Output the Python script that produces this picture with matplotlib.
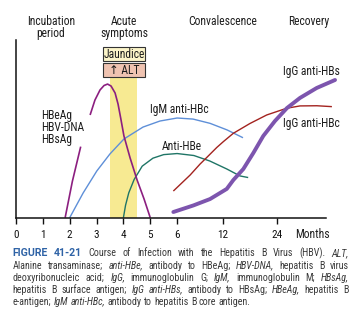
import numpy as np
import matplotlib
matplotlib.use("Agg")
import matplotlib.pyplot as plt
from matplotlib.patches import Rectangle

W, H = 361, 328

# --- data (months on x, relative level 0-100 on y) ---
month_ticks = [0, 1, 2, 3, 4, 5, 6, 12, 24]
# piecewise time axis: months -> axis position
scale_months = [0, 6, 12, 24, 48]
scale_pos = [0, 6, 7.70, 9.73, 13.80]

# HBeAg / HBV-DNA / HBsAg (drawn with a break)
antigen_rise_m = [1.83, 2.1, 2.41]
antigen_rise_y = [0, 20.5, 40]
antigen_peak_m = [2.76, 2.94, 3.13, 3.28, 3.41, 3.54, 3.69, 3.80, 3.90, 4.02, 4.25, 4.51, 4.77, 5.0]
antigen_peak_y = [57.8, 66.2, 71.9, 74.4, 75.2, 74.1, 70.2, 64.0, 56.0, 46.0, 33.6, 21.2, 10.5, 0]

igm_hbc_m = [2.0, 2.5, 3.01, 3.5, 4.02, 4.73, 5.36, 6.0, 8.10, 10.33, 12.95, 16.46]
igm_hbc_y = [0, 13.9, 26.3, 35.9, 44.3, 51.0, 54.4, 56.1, 55.5, 53.1, 49.4, 45.0]

anti_hbe_m = [4.0, 4.08, 4.2, 4.4, 4.7, 5.1, 5.5, 6.0, 8.2, 10.3, 12.9, 15.8, 17.6]
anti_hbe_y = [0, 7, 14, 21.5, 29, 33.5, 35.5, 36.1, 35.0, 31.9, 27.4, 23.5, 22.6]

igg_hbc_m = [5.86, 7.71, 9.02, 9.90, 11.21, 12.13, 14.33, 17.98, 21.67, 26.07, 29.0, 32.7, 36.0]
igg_hbc_y = [15.0, 24.0, 30.2, 33.9, 39.5, 42.8, 47.5, 53.0, 57.8, 61.6, 62.9, 63.0, 62.5]

igg_hbs_m = [5.86, 8.14, 10.33, 12.88, 14.33, 16.53, 18.73, 20.92, 23.49, 26.13, 28.99, 32.66, 36.69]
igg_hbs_y = [3.2, 6.9, 10.5, 16.2, 21.2, 27.4, 36.4, 46.0, 54.4, 61.7, 67.4, 73.0, 77.5]

jaundice_band = (3.5, 4.5)
band_top = 78.4
box_months = (3.23, 4.82)
jaundice_box_y = (88.35, 95.9)
alt_box_y = (79.3, 86.9)

caption_lines = [
    [("FIGURE 41-21", "b"), ("Course of Infection with the Hepatitis B Virus (HBV).", "n"), ("ALT,", "i")],
    [("Alanine transaminase;", "n"), ("anti-HBe,", "i"), ("antibody to HBeAg;", "n"),
     ("HBV-DNA,", "i"), ("hepatitis B virus", "n")],
    [("deoxyribonucleic acid;", "n"), ("IgG,", "i"), ("immunoglobulin G;", "n"), ("IgM,", "i"),
     ("immunoglobulin M;", "n"), ("HBsAg,", "i")],
    [("hepatitis B surface antigen;", "n"), ("IgG anti-HBs,", "i"), ("antibody to HBsAg;", "n"),
     ("HBeAg,", "i"), ("hepatitis B", "n")],
    [("e-antigen;", "n"), ("IgM anti-HBc,", "i"), ("antibody to hepatitis B core antigen.", "n")],
]

COND = ["Roboto Condensed", "DejaVu Sans"]
plt.rcParams["font.family"] = COND
TXT = "#1e1e1e"


def fx(px):
    return px / W


def fy(py):
    return 1 - py / H


def fwd(m):
    return np.interp(m, scale_months, scale_pos)


def inv(p):
    return np.interp(p, scale_pos, scale_months)


fig = plt.figure(figsize=(W / 100, H / 100), dpi=100)
renderer = fig.canvas.get_renderer()


def label(px, py, s, ha="left", fs=8.4, **kw):
    # text at pixel coords (from top-left), baseline of the first line at py
    kw.setdefault("color", TXT)
    t = fig.text(fx(px), fy(py), s, ha=ha, va="baseline", fontsize=fs,
                 multialignment=ha, linespacing=0.9, **kw)
    if "\n" in s:
        probe = fig.text(fx(px), fy(py), s.split("\n")[0], ha=ha, va="baseline", fontsize=fs, **kw)
        top1 = probe.get_window_extent(renderer).y1
        probe.remove()
        top2 = t.get_window_extent(renderer).y1
        t.set_y(fy(py) + (top1 - top2) / H)
    return t, t.get_window_extent(renderer).width


ax = fig.add_axes([fx(16), fy(217.7), (340 - 16) / W, 177.7 / H])
ax.set_xscale("function", functions=(fwd, inv))
ax.set_xlim(0, 37.78)
ax.set_ylim(0, 100)

# jaundice band and boxes
ax.add_patch(Rectangle((jaundice_band[0], 0), jaundice_band[1] - jaundice_band[0], band_top,
                       facecolor="#f7ea92", edgecolor="none", zorder=0))
ax.add_patch(Rectangle((box_months[0], jaundice_box_y[0]), box_months[1] - box_months[0],
                       jaundice_box_y[1] - jaundice_box_y[0], facecolor="#fcf5c9",
                       edgecolor="#333333", lw=0.8, clip_on=False))
ax.add_patch(Rectangle((box_months[0], alt_box_y[0]), box_months[1] - box_months[0],
                       alt_box_y[1] - alt_box_y[0], facecolor="#efc3b1",
                       edgecolor="#333333", lw=0.8, clip_on=False))

# curves
ax.plot(igm_hbc_m, igm_hbc_y, color="#5e8fd8", lw=1.0, solid_capstyle="butt")
ax.plot(anti_hbe_m, anti_hbe_y, color="#1f7566", lw=1.0, solid_capstyle="butt")
ax.plot(igg_hbc_m, igg_hbc_y, color="#a3231f", lw=1.0, solid_capstyle="butt", clip_on=False)
ax.plot(antigen_rise_m, antigen_rise_y, color="#8c1f80", lw=1.2, solid_capstyle="butt")
ax.plot(antigen_peak_m, antigen_peak_y, color="#8c1f80", lw=1.2, solid_capstyle="butt")
ax.plot(igg_hbs_m, igg_hbs_y, color="#7d55ae", lw=2.8, solid_capstyle="round", clip_on=False)

# axes styling
for s in ("top", "right"):
    ax.spines[s].set_visible(False)
ax.spines["bottom"].set_bounds(0, 34.7)
for s in ("left", "bottom"):
    ax.spines[s].set_linewidth(1.1)
    ax.spines[s].set_color("#111111")
ax.set_yticks([])
ax.set_xticks(month_ticks)
ax.set_xticklabels([str(m) for m in month_ticks])
ax.tick_params(axis="x", direction="out", length=4.5, width=1.0, pad=4,
               labelsize=8, colors="#111111")
ax.xaxis.set_minor_locator(matplotlib.ticker.NullLocator())
label(295, 238.3, "Months")

# box texts
label(124, 57.5, "Jaundice", ha="center")
label(124, 74, "\u2191 ALT", ha="center")

# phase headers
label(51, 25, "Incubation\nperiod", ha="center")
label(124.3, 25, "Acute\nsymptoms", ha="center")
label(223, 25, "Convalescence", ha="center")
label(309, 25, "Recovery", ha="center")

# curve labels
label(41, 119, "HBeAg\nHBV-DNA\nHBsAg")
label(150, 112.5, "IgM anti-HBc")
label(161.7, 150, "Anti-HBe")
label(283.3, 74.5, "IgG anti-HBs")
label(283.3, 126.5, "IgG anti-HBc")

# caption, justified line by line
styles = {
    "n": dict(style="normal", color="#3a3a3a", fs=7.2),
    "i": dict(style="italic", color="#3a3a3a", fs=7.2),
    "b": dict(weight="bold", color="#2f63a6", fs=7.6, family=["Roboto", "DejaVu Sans"]),
}
x_left, x_right = 12.7, 348.7
for li, tokens in enumerate(caption_lines):
    y = 256.5 + 12.05 * li
    words = []
    for text, st in tokens:
        for w in text.split(" "):
            words.append((w, st))
    placed = [label(0, y, w, **styles[st]) for w, st in words]
    widths = [w for _, w in placed]
    if li < len(caption_lines) - 1:
        gap = (x_right - x_left - sum(widths)) / (len(words) - 1)
    else:
        gap = 2.4
    x = x_left
    for (t, w) in placed:
        t.set_x(fx(x))
        x += w + gap

fig.savefig("out.png", dpi=100)
